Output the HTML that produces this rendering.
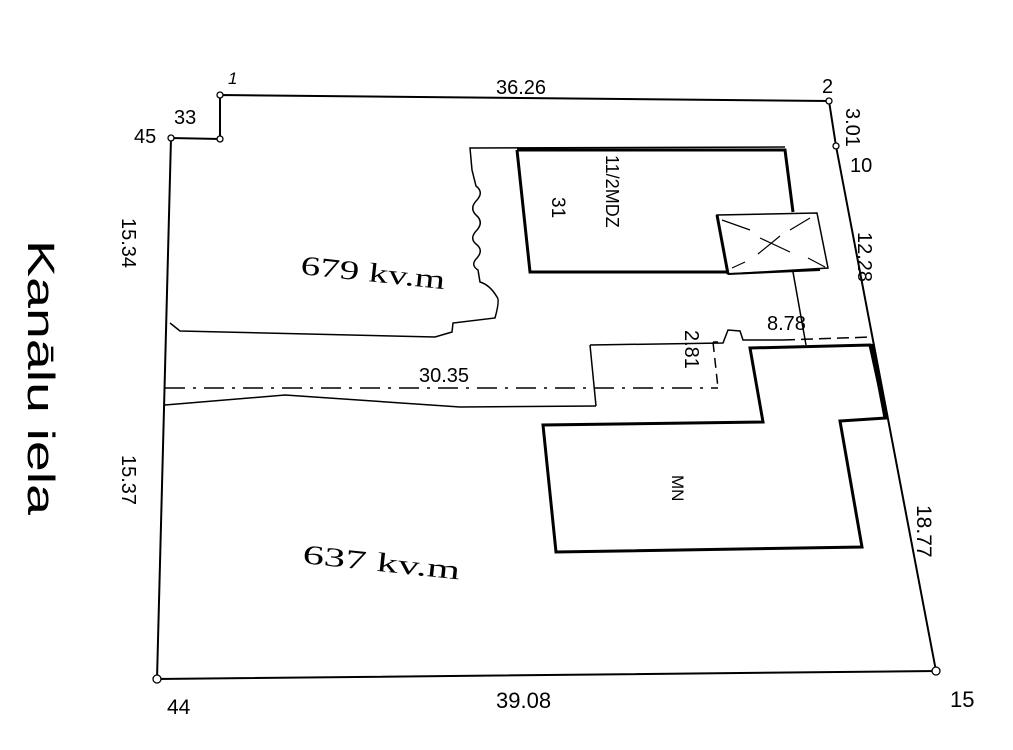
<!DOCTYPE html>
<html><head><meta charset="utf-8"><style>
html,body{margin:0;padding:0;background:#fff;}
svg{display:block;}
text{font-family:"Liberation Sans",sans-serif;fill:#000;}
.s{font-family:"Liberation Serif",serif;}
</style></head><body>
<svg width="1013" height="750" viewBox="0 0 1013 750" xmlns="http://www.w3.org/2000/svg">
<g fill="none" stroke="#000" stroke-width="2">
<polyline points="220,95 829,101 836,146 936,671 157,679 171,138 220,139 220,95"/>
<line x1="872" y1="344" x2="886" y2="418" stroke-width="5"/>
<path d="M170,323 L180,331 L435,337 L452,332 L453,323 L495,318 Q500,300 497,297 Q490,285 480,282 L478,270 Q470,265 477,258 Q484,250 476,244 Q469,238 477,230 Q484,222 476,215 Q469,208 477,200 Q484,192 476,186 L472,170 L470,148 L785,147" stroke-width="1.5"/>
<polyline points="517,150 785,150 793,212" stroke-width="3"/>
<polyline points="517,150 530,272 727,272" stroke-width="3"/>
<polygon points="717,215 817,213 828,268 728,274" stroke-width="1.5"/>
<line x1="717" y1="215" x2="728" y2="274" stroke-width="3"/>
<line x1="728" y1="274" x2="820" y2="270" stroke-width="2"/>
<line x1="722" y1="220" x2="750" y2="230" stroke-width="1.2"/>
<line x1="810" y1="218" x2="790" y2="230" stroke-width="1.2"/>
<line x1="760" y1="238" x2="790" y2="252" stroke-width="1.2"/>
<line x1="780" y1="236" x2="758" y2="254" stroke-width="1.2"/>
<line x1="732" y1="268" x2="745" y2="262" stroke-width="1.2"/>
<line x1="808" y1="258" x2="825" y2="267" stroke-width="1.2"/>
<line x1="793" y1="272" x2="806" y2="345" stroke-width="1.5"/>
<line x1="783" y1="340" x2="872" y2="337" stroke-width="1.5" stroke-dasharray="12,6"/>
<path d="M590,345 L723,343 L728,330 L740,331 L743,340 L783,340" stroke-width="1.5"/>
<line x1="590" y1="345" x2="596" y2="406" stroke-width="1.5"/>
<path d="M165,405 L285,395 L460,407 L596,406" stroke-width="1.5"/>
<line x1="165" y1="388" x2="718" y2="388" stroke-width="1.5" stroke-dasharray="20,8,3,8"/>
<line x1="713" y1="342" x2="718" y2="388" stroke-width="1.5" stroke-dasharray="10,6"/>
<line x1="713" y1="342" x2="718" y2="342" stroke-width="1.5"/>
<polygon points="750,348 870,345 886,418 840,421 862,547 556,552 543,425 763,422" stroke-width="3"/>
<g stroke-width="1.3" fill="#fff">
<circle cx="220" cy="95" r="3"/><circle cx="829" cy="101" r="3"/><circle cx="836" cy="146" r="3"/>
<circle cx="936" cy="671" r="4"/><circle cx="157" cy="679" r="4"/><circle cx="171" cy="138" r="3"/><circle cx="220" cy="139" r="3"/>
</g>
</g>
<g font-size="20">
<text x="496" y="94">36.26</text>
<text x="822" y="93">2</text>
<text x="228" y="84" font-size="17" font-style="italic">1</text>
<text x="174" y="124">33</text>
<text x="134" y="143">45</text>
<text x="850" y="172">10</text>
<text x="167" y="714" font-size="21">44</text>
<text x="496" y="708" font-size="22">39.08</text>
<text x="950" y="707" font-size="22">15</text>
<text x="419" y="382">30.35</text>
<text x="767" y="330">8.78</text>
<text transform="translate(846,108) rotate(90)">3.01</text>
<text transform="translate(858,232) rotate(90)">12.28</text>
<text transform="translate(917,505) rotate(90)" font-size="21">18.77</text>
<text transform="translate(122,218) rotate(90)">15.34</text>
<text transform="translate(122,455) rotate(90)">15.37</text>
<text transform="translate(685,330) rotate(90)">2.81</text>
<text transform="translate(672,475) rotate(90)" font-size="17">MN</text>
<text transform="translate(552,197) rotate(90)" font-size="19">31</text>
<text transform="translate(606,155) rotate(90)" font-size="18">11/2MDZ</text>
<text transform="translate(28,240) rotate(90)" font-size="38" textLength="275" lengthAdjust="spacingAndGlyphs">Kanālu iela</text>
</g>
<text class="s" font-size="27" transform="translate(300,274) rotate(6)" textLength="145" lengthAdjust="spacingAndGlyphs">679  kv.m</text>
<text class="s" font-size="27" transform="translate(302,563) rotate(6)" textLength="158" lengthAdjust="spacingAndGlyphs">637  kv.m</text>
</svg>
</body></html>
